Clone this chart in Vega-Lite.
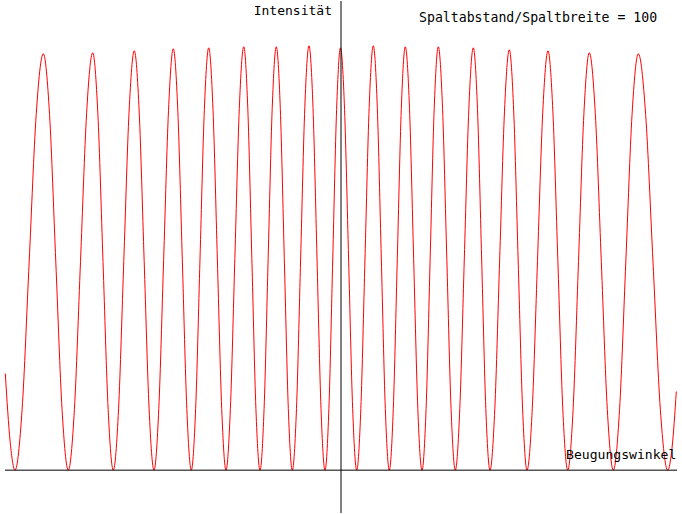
{
  "$schema": "https://vega.github.io/schema/vega-lite/v6.json",
  "width": 682,
  "height": 514,
  "autosize": {"type": "fit", "contains": "padding"},
  "padding": 0,
  "background": "white",
  "view": {"stroke": null},
  "data": {"values": [
    {"w": -335.7, "i": 97}, {"w": -330.8, "i": 28}, {"w": -326, "i": 0},
    {"w": -318.9, "i": 61}, {"w": -311.85, "i": 209}, {"w": -304.8, "i": 357}, {"w": -297.7, "i": 418},
    {"w": -291.45, "i": 357}, {"w": -285.2, "i": 209}, {"w": -278.95, "i": 61}, {"w": -272.7, "i": 0},
    {"w": -266.6, "i": 61}, {"w": -260.5, "i": 209.5}, {"w": -254.4, "i": 358}, {"w": -248.3, "i": 419},
    {"w": -243.15, "i": 358}, {"w": -238, "i": 209.5}, {"w": -232.85, "i": 61}, {"w": -227.7, "i": 0},
    {"w": -222.45, "i": 61.5}, {"w": -217.2, "i": 210.5}, {"w": -211.95, "i": 359.5}, {"w": -206.7, "i": 421},
    {"w": -201.8, "i": 359.5}, {"w": -196.85, "i": 210.5}, {"w": -191.9, "i": 61.5}, {"w": -187, "i": 0},
    {"w": -182.2, "i": 62}, {"w": -177.35, "i": 211.5}, {"w": -172.5, "i": 361}, {"w": -167.7, "i": 423},
    {"w": -163.2, "i": 361}, {"w": -158.7, "i": 211.5}, {"w": -154.2, "i": 62}, {"w": -149.7, "i": 0},
    {"w": -145.35, "i": 62}, {"w": -141, "i": 212}, {"w": -136.65, "i": 362}, {"w": -132.3, "i": 424},
    {"w": -128, "i": 362}, {"w": -123.65, "i": 212}, {"w": -119.3, "i": 62}, {"w": -115, "i": 0},
    {"w": -110.6, "i": 62}, {"w": -106.15, "i": 212.5}, {"w": -101.7, "i": 363}, {"w": -97.3, "i": 425},
    {"w": -93.2, "i": 363}, {"w": -89.15, "i": 212.5}, {"w": -85.1, "i": 62}, {"w": -81, "i": 0},
    {"w": -76.9, "i": 62}, {"w": -72.85, "i": 212.5}, {"w": -68.8, "i": 363}, {"w": -64.7, "i": 425},
    {"w": -60.7, "i": 363}, {"w": -56.7, "i": 212.5}, {"w": -52.7, "i": 62}, {"w": -48.7, "i": 0},
    {"w": -44.5, "i": 62}, {"w": -40.35, "i": 213}, {"w": -36.2, "i": 364}, {"w": -32, "i": 426},
    {"w": -28, "i": 364}, {"w": -24, "i": 213}, {"w": -20, "i": 62}, {"w": -16, "i": 0},
    {"w": -12.1, "i": 62}, {"w": -8.25, "i": 212}, {"w": -4.4, "i": 362}, {"w": -0.5, "i": 424},
    {"w": 3.55, "i": 362}, {"w": 7.6, "i": 212}, {"w": 11.65, "i": 62}, {"w": 15.7, "i": 0},
    {"w": 19.85, "i": 62}, {"w": 24, "i": 213}, {"w": 28.15, "i": 364}, {"w": 32.3, "i": 426},
    {"w": 36.3, "i": 364}, {"w": 40.3, "i": 213}, {"w": 44.3, "i": 62}, {"w": 48.3, "i": 0},
    {"w": 52.3, "i": 62}, {"w": 56.3, "i": 212.5}, {"w": 60.3, "i": 363}, {"w": 64.3, "i": 425},
    {"w": 68.5, "i": 363}, {"w": 72.65, "i": 212.5}, {"w": 76.8, "i": 62}, {"w": 81, "i": 0},
    {"w": 85.1, "i": 62}, {"w": 89.15, "i": 212.5}, {"w": 93.2, "i": 363}, {"w": 97.3, "i": 425},
    {"w": 101.55, "i": 363}, {"w": 105.8, "i": 212.5}, {"w": 110.05, "i": 62}, {"w": 114.3, "i": 0},
    {"w": 118.8, "i": 62}, {"w": 123.3, "i": 212}, {"w": 127.8, "i": 362}, {"w": 132.3, "i": 424},
    {"w": 136.5, "i": 362}, {"w": 140.65, "i": 212}, {"w": 144.8, "i": 62}, {"w": 149, "i": 0},
    {"w": 153.8, "i": 61.5}, {"w": 158.65, "i": 211}, {"w": 163.5, "i": 360.5}, {"w": 168.3, "i": 422},
    {"w": 172.7, "i": 360.5}, {"w": 177.15, "i": 211}, {"w": 181.6, "i": 61.5}, {"w": 186, "i": 0},
    {"w": 191.25, "i": 61.5}, {"w": 196.5, "i": 210.5}, {"w": 201.75, "i": 359.5}, {"w": 207, "i": 421},
    {"w": 211.9, "i": 359.5}, {"w": 216.85, "i": 210.5}, {"w": 221.8, "i": 61.5}, {"w": 226.7, "i": 0},
    {"w": 232.1, "i": 61}, {"w": 237.5, "i": 209.5}, {"w": 242.9, "i": 358}, {"w": 248.3, "i": 419},
    {"w": 254.3, "i": 358}, {"w": 260.3, "i": 209.5}, {"w": 266.3, "i": 61}, {"w": 272.3, "i": 0},
    {"w": 278.55, "i": 61}, {"w": 284.8, "i": 209}, {"w": 291.05, "i": 357}, {"w": 297.3, "i": 418},
    {"w": 304.65, "i": 357}, {"w": 312, "i": 209}, {"w": 319.35, "i": 61}, {"w": 326.7, "i": 0},
    {"w": 331, "i": 22}, {"w": 335.3, "i": 79}
  ]},
  "layer": [
    {
      "mark": {"type": "line", "color": "#ff0000", "strokeWidth": 1, "interpolate": "monotone", "clip": true},
      "encoding": {
        "x": {"field": "w", "type": "quantitative", "scale": {"domain": [-341, 341], "nice": false, "zero": false}, "axis": null},
        "y": {"field": "i", "type": "quantitative", "scale": {"domain": [-43, 471], "nice": false, "zero": false}, "axis": null}
      }
    },
    {
      "data": {"values": [{"achse": "Beugungswinkel"}]},
      "mark": {"type": "rule", "color": "black", "strokeWidth": 1},
      "encoding": {
        "x": {"datum": -336, "type": "quantitative"},
        "x2": {"datum": 336},
        "y": {"datum": 0, "type": "quantitative"}
      }
    },
    {
      "data": {"values": [{"achse": "Intensität"}]},
      "mark": {"type": "rule", "color": "black", "strokeWidth": 1},
      "encoding": {
        "x": {"datum": 0, "type": "quantitative"},
        "y": {"datum": -43, "type": "quantitative"},
        "y2": {"datum": 471}
      }
    },
    {
      "data": {"values": [{"label": "Intensität"}]},
      "mark": {"type": "text", "font": "DejaVu Sans Mono", "fontSize": 13, "color": "black", "align": "right", "baseline": "alphabetic"},
      "encoding": {
        "x": {"datum": -9, "type": "quantitative"},
        "y": {"datum": 457, "type": "quantitative"},
        "text": {"field": "label"}
      }
    },
    {
      "data": {"values": [{"label": "Spaltabstand/Spaltbreite = 100"}]},
      "mark": {"type": "text", "font": "DejaVu Sans Mono", "fontSize": 13.2, "color": "black", "align": "left", "baseline": "alphabetic"},
      "encoding": {
        "x": {"datum": 78, "type": "quantitative"},
        "y": {"datum": 449.5, "type": "quantitative"},
        "text": {"field": "label"}
      }
    },
    {
      "data": {"values": [{"label": "Beugungswinkel"}]},
      "mark": {"type": "text", "font": "DejaVu Sans Mono", "fontSize": 13.1, "color": "black", "align": "left", "baseline": "alphabetic"},
      "encoding": {
        "x": {"datum": 225, "type": "quantitative"},
        "y": {"datum": 11.7, "type": "quantitative"},
        "text": {"field": "label"}
      }
    }
  ]
}
